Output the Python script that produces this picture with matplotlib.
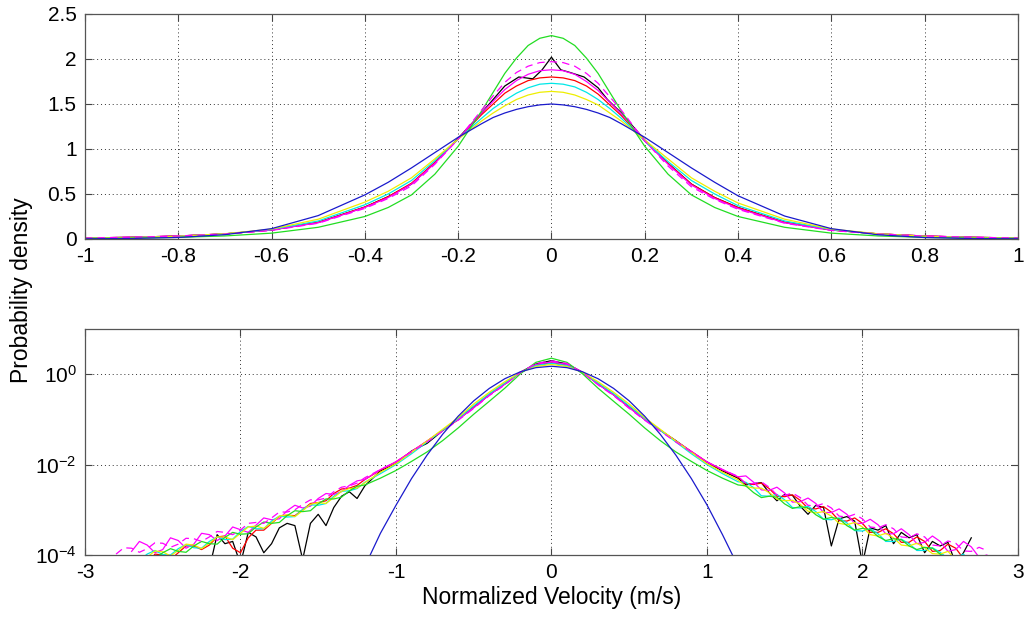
import matplotlib
matplotlib.use('Agg')
import matplotlib.pyplot as plt
import numpy as np
from matplotlib.ticker import NullLocator, FuncFormatter

plt.rcParams['font.family'] = ['Liberation Sans', 'DejaVu Sans']
plt.rcParams['axes.unicode_minus'] = False
plt.rcParams['mathtext.fontset'] = 'custom'
plt.rcParams['mathtext.rm'] = 'Liberation Sans'

nan = np.nan

# ---- top panel: linear density ----
x_top = [-1, -0.9, -0.8, -0.7, -0.6, -0.5, -0.4, -0.35, -0.3, -0.25, -0.2,
         -0.15, -0.125, -0.1, -0.075, -0.05, -0.025, 0, 0.025, 0.05, 0.075, 0.1, 0.125, 0.15,
         0.2, 0.25, 0.3, 0.35, 0.4, 0.5, 0.6, 0.7, 0.8, 0.9, 1.0]
blue_top = [0.002, 0.006, 0.017, 0.048, 0.115, 0.26, 0.49, 0.63, 0.79, 0.96, 1.13,
            1.28, 1.35, 1.40, 1.44, 1.47, 1.49, 1.50, 1.49, 1.47, 1.44, 1.40, 1.35, 1.28,
            1.13, 0.96, 0.79, 0.63, 0.48, 0.255, 0.115, 0.047, 0.016, 0.005, 0.002]
yellow_top = [0.009, 0.016, 0.03, 0.058, 0.11, 0.22, 0.41, 0.53, 0.68, 0.89, 1.11,
              1.31, 1.40, 1.48, 1.55, 1.60, 1.63, 1.64, 1.63, 1.60, 1.55, 1.49, 1.40, 1.31,
              1.10, 0.89, 0.68, 0.53, 0.40, 0.22, 0.11, 0.058, 0.03, 0.016, 0.009]
cyan_top = [0.009, 0.016, 0.029, 0.056, 0.105, 0.20, 0.38, 0.50, 0.65, 0.87, 1.11,
            1.34, 1.45, 1.54, 1.62, 1.68, 1.72, 1.73, 1.72, 1.69, 1.63, 1.55, 1.45, 1.34,
            1.09, 0.86, 0.65, 0.50, 0.37, 0.20, 0.105, 0.055, 0.028, 0.016, 0.009]
red_top = [0.011, 0.019, 0.033, 0.057, 0.10, 0.185, 0.355, 0.47, 0.62, 0.85, 1.11,
           1.38, 1.50, 1.62, 1.70, 1.76, 1.79, 1.80, 1.79, 1.76, 1.70, 1.61, 1.49, 1.37,
           1.09, 0.84, 0.61, 0.46, 0.35, 0.185, 0.10, 0.057, 0.033, 0.019, 0.011]
mag_top = [0.011, 0.019, 0.033, 0.057, 0.10, 0.18, 0.35, 0.46, 0.61, 0.84, 1.11,
           1.40, 1.53, 1.66, 1.76, 1.83, 1.87, 1.88, 1.87, 1.83, 1.75, 1.65, 1.52, 1.39,
           1.09, 0.83, 0.60, 0.45, 0.34, 0.18, 0.10, 0.057, 0.033, 0.019, 0.011]
magd_top = [0.011, 0.019, 0.033, 0.055, 0.095, 0.175, 0.34, 0.45, 0.59, 0.83, 1.11,
            1.43, 1.59, 1.74, 1.85, 1.92, 1.96, 1.97, 1.96, 1.92, 1.84, 1.73, 1.58, 1.43,
            1.09, 0.81, 0.58, 0.44, 0.33, 0.175, 0.095, 0.055, 0.033, 0.019, 0.011]
green_top = [0.006, 0.01, 0.018, 0.034, 0.065, 0.13, 0.25, 0.35, 0.49, 0.72, 1.03,
             1.42, 1.63, 1.84, 2.01, 2.15, 2.23, 2.26, 2.23, 2.15, 2.01, 1.84, 1.63, 1.42,
             1.03, 0.72, 0.49, 0.35, 0.25, 0.13, 0.065, 0.034, 0.018, 0.01, 0.006]
x_black_top = [-1, -0.9, -0.8, -0.7, -0.6, -0.5, -0.4, -0.35, -0.3, -0.25, -0.2, -0.15, -0.12, -0.1, -0.07,
               -0.04, -0.02, 0, 0.02, 0.04, 0.07, 0.1, 0.12, 0.15, 0.2, 0.25, 0.3, 0.35, 0.4, 0.5, 0.6,
               0.7, 0.8, 0.9, 1.0]
black_top = [0.011, 0.019, 0.033, 0.057, 0.10, 0.185, 0.355, 0.47, 0.61, 0.85, 1.12, 1.40, 1.58, 1.70, 1.80,
             1.78, 1.88, 2.02, 1.88, 1.85, 1.80, 1.68, 1.55, 1.40, 1.10, 0.84, 0.61, 0.46, 0.35, 0.185, 0.10,
             0.057, 0.033, 0.019, 0.011]

# ---- bottom panel: log10 of density (left tail | core | right tail) ----
x_bot = [-2.8, -2.75, -2.7, -2.65, -2.6, -2.55, -2.5, -2.45, -2.4, -2.35, -2.3, -2.25, -2.2, -2.15, -2.1, -2.05,
         -2.0, -1.95, -1.9, -1.85, -1.8, -1.75, -1.7, -1.65, -1.6, -1.55, -1.5, -1.45, -1.4, -1.35, -1.3, -1.25, -1.2,
         -1.1, -1.0, -0.9, -0.8, -0.7, -0.6, -0.5, -0.4, -0.3, -0.2, -0.1, 0, 0.1, 0.2, 0.3, 0.4, 0.5, 0.6,
         0.7, 0.8, 0.9, 1.0, 1.1,
         1.2, 1.25, 1.3, 1.35, 1.4, 1.45, 1.5, 1.55, 1.6, 1.65, 1.7, 1.75, 1.8, 1.85, 1.9, 1.95,
         2.0, 2.05, 2.1, 2.15, 2.2, 2.25, 2.3, 2.35, 2.4, 2.45, 2.5, 2.55, 2.6, 2.65, 2.7, 2.75, 2.8]
yellow_log = [nan, nan, nan, nan, -4.05, -3.91, -3.93, -4.02, -3.90, -3.76, -3.78, -3.86, -3.74, -3.60, -3.60, -3.66,
              -3.52, -3.38, -3.36, -3.41, -3.29, -3.14, -3.11, -3.15, -3.02, -2.88, -2.84, -2.86, -2.73, -2.59, -2.53, -2.52, -2.40,
              -2.17, -1.98, -1.73, -1.48, -1.22, -0.96, -0.66, -0.40, -0.167, 0.041, 0.17, 0.215, 0.17, 0.041, -0.167, -0.40,
              -0.66, -0.96, -1.22, -1.48, -1.73, -1.98, -2.17,
              -2.34, -2.48, -2.52, -2.52, -2.62, -2.76, -2.80, -2.79, -2.88, -3.03, -3.07, -3.04, -3.14, -3.30, -3.33, -3.28,
              -3.38, -3.55, -3.58, -3.52, -3.62, -3.78, -3.80, -3.74, -3.84, -3.97, -3.98, -3.92, -4.1, nan, nan, nan, nan]
cyan_log = [nan, nan, -4.1, -4.12, -3.98, -3.90, -3.99, -4.0, -3.86, -3.77, -3.84, -3.85, -3.70, -3.60, -3.66, -3.65,
            -3.48, -3.37, -3.42, -3.42, -3.25, -3.14, -3.16, -3.15, -2.99, -2.89, -2.90, -2.86, -2.70, -2.59, -2.58, -2.53, -2.39,
            -2.2, -2.0, -1.76, -1.50, -1.24, -0.98, -0.70, -0.43, -0.194, 0.037, 0.19, 0.24, 0.19, 0.037, -0.194, -0.43,
            -0.70, -0.98, -1.24, -1.50, -1.76, -2.0, -2.2,
            -2.38, -2.39, -2.51, -2.69, -2.70, -2.66, -2.78, -2.95, -2.96, -2.92, -3.04, -3.21, -3.22, -3.18, -3.29, -3.46,
            -3.47, -3.42, -3.53, -3.70, -3.70, -3.65, -3.75, -3.90, -3.90, -3.84, -3.94, -4.08, -4.05, -3.98, -4.2, nan, nan]
red_log = [nan, nan, nan, nan, -4.2, -3.98, -4.0, -4.1, -3.95, -3.80, -3.80, -3.88, -3.78, -3.60, -3.58, -3.85,
           -3.95, -3.62, -3.45, -3.45, -3.30, -3.15, -3.12, -3.13, -3.0, -2.86, -2.84, -2.80, -2.64, -2.54, -2.52, -2.46, -2.33,
           -2.12, -1.94, -1.71, -1.48, -1.24, -1.0, -0.73, -0.456, -0.215, 0.04, 0.204, 0.255, 0.204, 0.04, -0.215, -0.456,
           -0.73, -1.0, -1.24, -1.48, -1.71, -1.94, -2.12,
           -2.28, -2.42, -2.44, -2.41, -2.53, -2.70, -2.71, -2.67, -2.79, -2.97, -2.98, -2.93, -3.05, -3.24, -3.25, -3.18,
           -3.30, -3.50, -3.50, -3.42, -3.53, -3.72, -3.72, -3.60, -3.70, -3.92, -3.90, -3.76, -3.85, -4.08, -4.05, nan, nan]
mag_log = [nan, nan, -3.92, -3.70, -3.78, -3.95, -3.88, -3.62, -3.68, -3.85, -3.76, -3.52, -3.55, -3.68, -3.58, -3.38,
           -3.44, -3.50, -3.34, -3.18, -3.22, -3.20, -3.02, -2.90, -2.96, -2.92, -2.75, -2.64, -2.66, -2.60, -2.46, -2.36, -2.33,
           -2.11, -1.94, -1.71, -1.48, -1.24, -1.0, -0.745, -0.46, -0.222, 0.04, 0.217, 0.274, 0.217, 0.04, -0.222, -0.46,
           -0.745, -1.0, -1.24, -1.48, -1.71, -1.94, -2.11,
           -2.27, -2.25, -2.39, -2.56, -2.57, -2.50, -2.63, -2.83, -2.82, -2.74, -2.86, -3.06, -3.06, -2.98, -3.10, -3.30,
           -3.30, -3.21, -3.33, -3.53, -3.53, -3.42, -3.55, -3.75, -3.72, -3.58, -3.70, -3.92, -3.88, -3.70, -3.82, -4.05, -4.0]
black_log = [nan, nan, nan, nan, nan, nan, nan, nan, nan, nan, nan, nan, -4.3, -3.55, -3.75, -3.70,
             -4.2, -3.50, -3.6, -3.95, -3.75, -3.40, -3.3, -3.35, -4.1, -3.30, -3.1, -3.35, -2.95, -2.70, -2.6, -2.75, -2.47,
             -2.14, -1.98, -1.70, -1.53, -1.25, -1.0, -0.73, -0.456, -0.215, 0.045, 0.225, 0.30, 0.225, 0.045, -0.215, -0.456,
             -0.73, -1.0, -1.24, -1.47, -1.72, -1.95, -2.14,
             -2.30, -2.45, -2.42, -2.40, -2.62, -2.80, -2.66, -2.68, -2.92, -3.10, -2.90, -2.95, -3.80, -3.20, -3.15, -3.25,
             -4.2, -3.40, -3.45, -3.35, -3.75, -3.50, -3.62, -3.55, -3.95, -3.70, -3.80, -3.72, -4.2, -3.95, -3.62, nan, nan]
magd_log = [-3.98, -3.84, -3.85, -3.94, -3.86, -3.73, -3.74, -3.83, -3.76, -3.63, -3.64, -3.70, -3.60, -3.48, -3.50, -3.55,
            -3.45, -3.30, -3.28, -3.30, -3.18, -3.05, -3.05, -3.0, -2.88, -2.78, -2.78, -2.74, -2.60, -2.50, -2.47, -2.41, -2.29,
            -2.11, -1.94, -1.72, -1.50, -1.26, -1.02, -0.757, -0.475, -0.237, 0.037, 0.238, 0.294, 0.238, 0.037, -0.237, -0.475,
            -0.757, -1.02, -1.26, -1.50, -1.72, -1.94, -2.11,
            -2.26, -2.42, -2.42, -2.38, -2.50, -2.67, -2.68, -2.63, -2.73, -2.90, -2.92, -2.86, -2.96, -3.14, -3.16, -3.10,
            -3.20, -3.38, -3.40, -3.33, -3.42, -3.60, -3.62, -3.53, -3.60, -3.78, -3.80, -3.69, -3.74, -3.91, -3.92, -3.83, -3.90]
green_log = [nan, nan, nan, nan, -4.08, -4.08, -3.95, -3.86, -3.92, -3.94, -3.80, -3.70, -3.75, -3.76, -3.61, -3.50,
             -3.54, -3.53, -3.38, -3.27, -3.30, -3.28, -3.13, -3.02, -3.04, -3.02, -2.87, -2.76, -2.76, -2.72, -2.58, -2.48, -2.45,
             -2.3, -2.13, -1.93, -1.72, -1.47, -1.19, -0.886, -0.60, -0.31, 0.009, 0.262, 0.354, 0.262, 0.009, -0.31, -0.60,
             -0.886, -1.19, -1.47, -1.72, -1.93, -2.13, -2.3,
             -2.45, -2.47, -2.62, -2.73, -2.70, -2.72, -2.87, -2.97, -2.93, -2.96, -3.11, -3.21, -3.17, -3.20, -3.35, -3.45,
             -3.41, -3.44, -3.59, -3.68, -3.64, -3.66, -3.80, -3.88, -3.83, -3.85, -3.98, -4.1, -4.1, nan, nan, nan, nan]
x_blue_bot = [-1.2, -1.1, -1.0, -0.9, -0.8, -0.7, -0.6, -0.5, -0.4, -0.3, -0.2, -0.1, 0,
              0.1, 0.2, 0.3, 0.4, 0.5, 0.6, 0.7, 0.8, 0.9, 1.0, 1.1, 1.2]
blue_log = [-4.25, -3.52, -2.90, -2.31, -1.79, -1.33, -0.93, -0.59, -0.315, -0.10, 0.053, 0.145, 0.176,
            0.145, 0.053, -0.10, -0.315, -0.59, -0.93, -1.33, -1.79, -2.31, -2.89, -3.55, -4.25]

c_blue = '#1a1acc'
c_green = '#22dd22'
c_yellow = '#eeee00'
c_cyan = '#00e8e8'
c_red = '#ff0000'
c_mag = '#ff00ff'
c_black = '#000000'
lw = 0.9
dash = (0, (6, 4))

fig = plt.figure(figsize=(10.25, 6.19), dpi=100)
ax1 = fig.add_axes([0.0829, 0.6139, 0.9102, 0.3635])
ax2 = fig.add_axes([0.0829, 0.1034, 0.9102, 0.3651])

# top
ax1.plot(x_black_top, black_top, color=c_black, lw=lw)
ax1.plot(x_top, red_top, color=c_red, lw=lw)
ax1.plot(x_top, mag_top, color=c_mag, lw=lw)
ax1.plot(x_top, cyan_top, color=c_cyan, lw=lw)
ax1.plot(x_top, yellow_top, color=c_yellow, lw=lw)
ax1.plot(x_top, green_top, color=c_green, lw=lw)
ax1.plot(x_top, magd_top, color=c_mag, lw=lw, linestyle=dash)
ax1.plot(x_top, blue_top, color=c_blue, lw=lw)
ax1.set_xlim(-1, 1)
ax1.set_ylim(0, 2.5)
ax1.set_xticks([-1, -0.8, -0.6, -0.4, -0.2, 0, 0.2, 0.4, 0.6, 0.8, 1])
ax1.set_yticks([0, 0.5, 1, 1.5, 2, 2.5])
fmt = FuncFormatter(lambda v, p: f'{v:g}')
ax1.xaxis.set_major_formatter(fmt)
ax1.yaxis.set_major_formatter(fmt)

# bottom
ax2.plot(x_bot, 10 ** np.array(black_log), color=c_black, lw=lw)
ax2.plot(x_bot, 10 ** np.array(red_log), color=c_red, lw=lw)
ax2.plot(x_bot, 10 ** np.array(mag_log), color=c_mag, lw=lw)
ax2.plot(x_bot, 10 ** np.array(cyan_log), color=c_cyan, lw=lw)
ax2.plot(x_bot, 10 ** np.array(yellow_log), color=c_yellow, lw=lw)
ax2.plot(x_bot, 10 ** np.array(green_log), color=c_green, lw=lw)
ax2.plot(x_bot, 10 ** np.array(magd_log), color=c_mag, lw=lw, linestyle=dash)
ax2.plot(x_blue_bot, 10 ** np.array(blue_log), color=c_blue, lw=lw)
ax2.set_yscale('log')
ax2.set_xlim(-3, 3)
ax2.set_ylim(1e-4, 1e1)
ax2.set_xticks([-3, -2, -1, 0, 1, 2, 3])
ax2.xaxis.set_major_formatter(fmt)
ax2.set_yticks([1e-4, 1e-2, 1e0])
ax2.yaxis.set_minor_locator(NullLocator())
ax2.set_xlabel('Normalized Velocity (m/s)', fontsize=16.5, labelpad=3)

for ax in (ax1, ax2):
    ax.grid(True, linestyle=(0, (1, 3)), color='#333333', lw=0.7)
    ax.tick_params(direction='in', length=5, width=0.8, top=True, right=True,
                   labelsize=15, color='#444444', pad=6)
    for s in ax.spines.values():
        s.set_color('#555555')
        s.set_linewidth(0.9)

fig.text(0.021, 0.531, 'Probability density', rotation=90, va='center', ha='center', fontsize=16.5)

fig.savefig('out.png', dpi=100)
